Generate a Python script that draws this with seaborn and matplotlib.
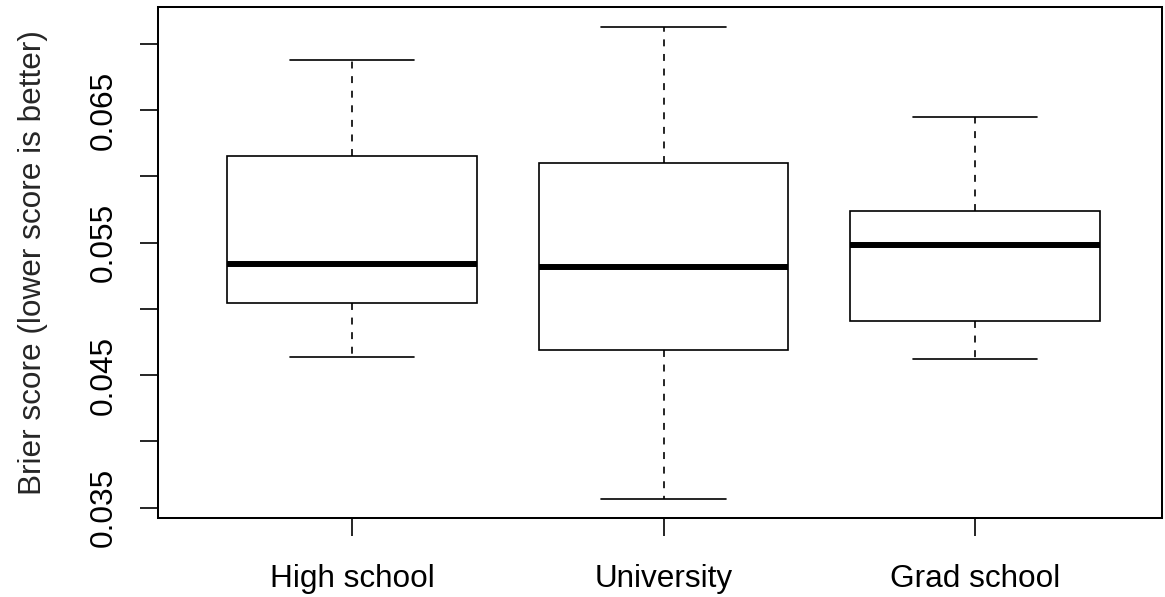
import numpy as np
import pandas as pd
import matplotlib
matplotlib.use("Agg")
import matplotlib.pyplot as plt
import seaborn as sns

# Five-number summaries per education level: lower whisker, Q1, median, Q3, upper whisker
groups = ["High school", "University", "Grad school"]
high_school = [0.04633, 0.05046, 0.05340, 0.06156, 0.06878]
university = [0.03563, 0.04691, 0.05314, 0.06098, 0.07131]
grad_school = [0.04618, 0.04905, 0.05485, 0.05736, 0.06450]

y_ticks = [0.035, 0.040, 0.045, 0.050, 0.055, 0.060, 0.065, 0.070]
y_labels = ["0.035", "", "0.045", "", "0.055", "", "0.065", ""]

df = pd.DataFrame({
    "level": np.repeat(groups, 5),
    "brier": high_school + university + grad_school,
})

sns.set_style("ticks")
plt.rcParams["font.family"] = ["Liberation Sans", "DejaVu Sans"]
plt.rcParams["lines.scale_dashes"] = False

fig = plt.figure(figsize=(11.65, 5.97), dpi=100)
ax = fig.add_axes([158 / 1165, 79 / 597, 1004 / 1165, 511 / 597])

sns.boxplot(
    data=df, x="level", y="brier", order=groups, ax=ax,
    color="white", linecolor="black", linewidth=1.2, width=0.8,
    whis=(0, 100), showfliers=False,
    whiskerprops={"linestyle": (0, (5, 5.5))},
    medianprops={"linewidth": 4.3, "color": "black"},
)

ax.set_xlim(-0.623, 2.6)
ax.set_ylim(0.03421, 0.07279)
ax.set_yticks(y_ticks)
ax.set_yticklabels(y_labels, rotation=90, va="center")
ax.set_xlabel("")
ax.set_ylabel("Brier score (lower score is better)", fontsize=22.7, labelpad=29)

for side in ["top", "right", "left", "bottom"]:
    ax.spines[side].set_visible(True)
    ax.spines[side].set_linewidth(1.45)
    ax.spines[side].set_color("black")

ax.tick_params(axis="both", direction="out", length=13, width=1.2,
               color="black", labelsize=22.7, labelcolor="black")
ax.tick_params(axis="y", pad=15.5)
ax.tick_params(axis="x", pad=20)

fig.savefig("out.png", dpi=100, facecolor="white")
